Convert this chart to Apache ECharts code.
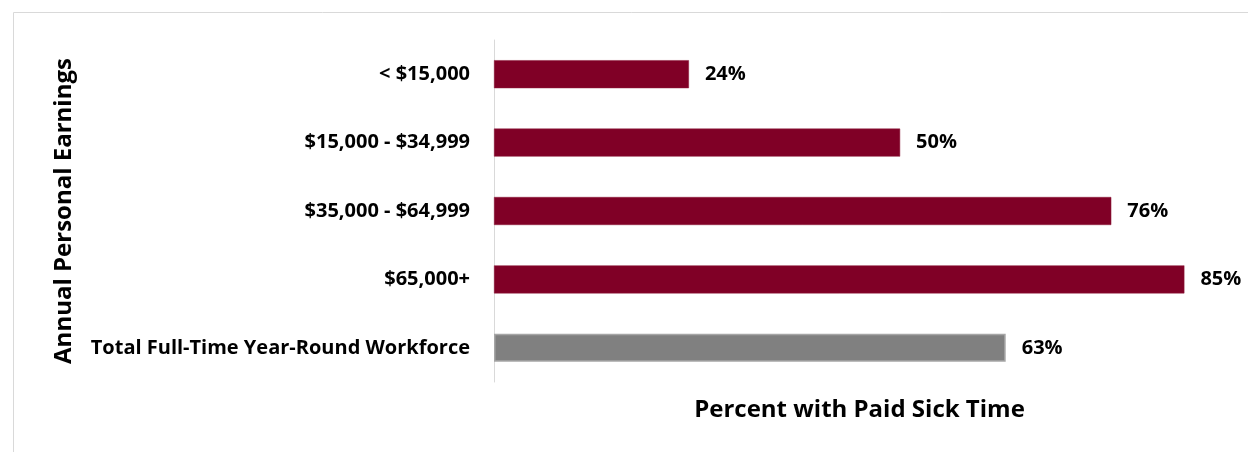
<!DOCTYPE html>
<html>
<head>
<meta charset="utf-8">
<script src="https://cdn.jsdelivr.net/npm/echarts@6/dist/echarts.min.js"></script>
<style>html,body{margin:0;padding:0;background:#fff}#c{width:1248px;height:452px}</style>
</head>
<body>
<div id="c"></div>
<script>
const categories = ['< $15,000', '$15,000 - $34,999', '$35,000 - $64,999', '$65,000+', 'Total Full-Time Year-Round Workforce'];
const values = [24, 50, 76, 85, 63];
const isTotal = [false, false, false, false, true];

const FONT = '"Open Sans", "Noto Sans", sans-serif';
const chart = echarts.init(document.getElementById('c'));
chart.setOption({
  animation: false,
  graphic: [{
    type: 'rect', left: 11, top: 10, shape: { width: 1250, height: 460 },
    style: { fill: 'none', stroke: '#d9d9d9', lineWidth: 1 }, silent: true
  }],
  grid: { left: 494, top: 40, width: 731, height: 342, containLabel: false },
  xAxis: {
    type: 'value', min: 0, max: 90,
    axisLine: { show: false }, axisTick: { show: false }, axisLabel: { show: false },
    splitLine: { show: false },
    name: 'Percent with Paid Sick Time', nameLocation: 'middle', nameGap: 16,
    nameTextStyle: { fontFamily: FONT, fontWeight: 'bold', fontSize: 24, color: '#000' }
  },
  yAxis: {
    type: 'category', data: categories, inverse: true,
    axisLine: { show: true, lineStyle: { color: '#d9d9d9', width: 1 } },
    axisTick: { show: false },
    axisLabel: { fontFamily: FONT, fontWeight: 'bold', fontSize: 20, color: '#000', margin: 24 },
    name: 'Annual Personal Earnings', nameLocation: 'middle', nameGap: 418, nameRotate: 90,
    nameTextStyle: { fontFamily: FONT, fontWeight: 'bold', fontSize: 24, color: '#000' }
  },
  series: [{
    type: 'bar', barWidth: 28,
    data: values.map((v, i) => ({
      value: v,
      itemStyle: isTotal[i]
        ? { color: '#808080', borderColor: '#a6a6a6', borderWidth: 1.5 }
        : { color: '#800026', borderColor: '#8c1a3a', borderWidth: 0.5 }
    })),
    label: {
      show: true, position: 'right', distance: 16, formatter: '{c}%',
      fontFamily: FONT, fontWeight: 'bold', fontSize: 20, color: '#000'
    }
  }]
});
</script>
</body>
</html>
